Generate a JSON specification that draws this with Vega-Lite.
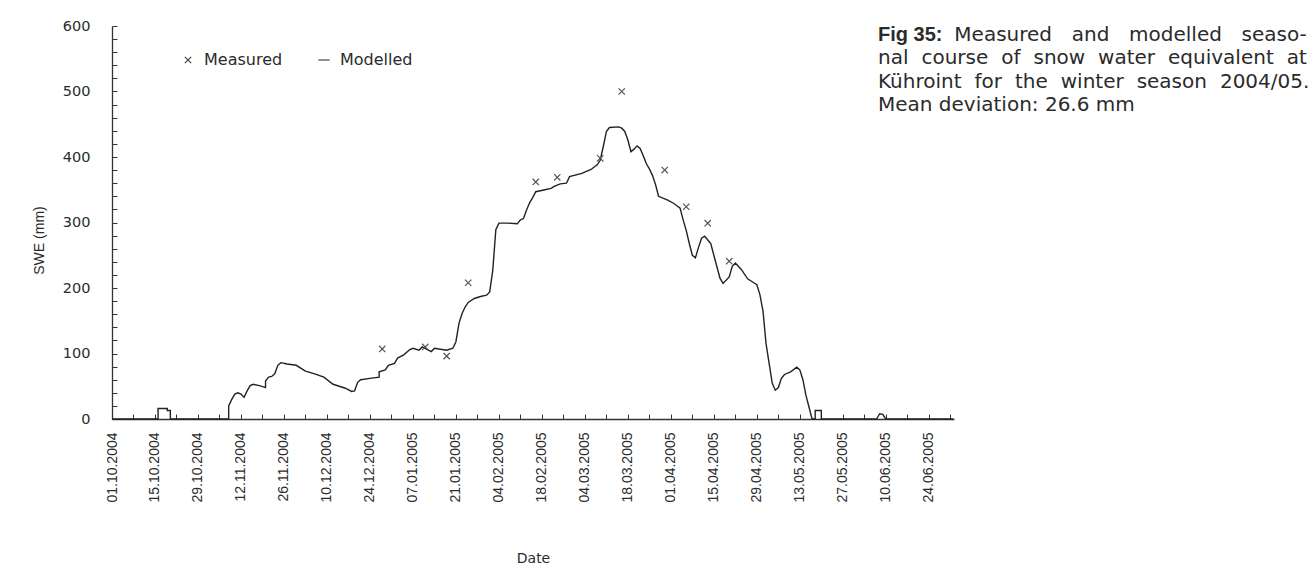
{
  "$schema": "https://vega.github.io/schema/vega-lite/v6.json",
  "width": 842,
  "height": 393,
  "autosize": {"type": "none"},
  "padding": {"left": 112, "top": 26, "right": 361, "bottom": 163},
  "background": "white",
  "config": {
    "view": {"stroke": null},
    "font": "DejaVu Sans"
  },
  "title": {
    "text": "Fig 35:",
    "subtitle": [
      "\u200b\u2003\u2003\u2003\u2002 Measured\u2002\u2006 and\u2002\u2006 modelled\u2002\u2006 seaso-",
      "nal\u2004 course\u2004 of\u2004 snow\u2004 water\u2004 equivalent\u2004 at",
      "Kühroint\u2004 for\u2004 the\u2004 winter\u2004 season\u2004 2004/05.",
      "Mean deviation: 26.6 mm"
    ],
    "anchor": "start",
    "frame": "group",
    "orient": "top",
    "baseline": "top",
    "dx": 766,
    "dy": 101,
    "font": "Liberation Sans",
    "fontSize": 20,
    "fontWeight": "bold",
    "color": "#2b2b2b",
    "subtitleFont": "DejaVu Sans",
    "subtitleFontSize": 20,
    "subtitleColor": "#2b2b2b",
    "subtitleLineHeight": 23.5,
    "subtitlePadding": -20
  },
  "datasets": {
    "modelled": [
      {"date": "2004-10-01", "swe": 0},
      {"date": "2004-10-16", "swe": 0},
      {"date": "2004-10-16", "swe": 16},
      {"date": "2004-10-19", "swe": 16},
      {"date": "2004-10-19", "swe": 13},
      {"date": "2004-10-20", "swe": 13},
      {"date": "2004-10-20", "swe": 0},
      {"date": "2004-11-08", "swe": 0},
      {"date": "2004-11-08", "swe": 20},
      {"date": "2004-11-09", "swe": 30},
      {"date": "2004-11-10", "swe": 38},
      {"date": "2004-11-11", "swe": 40},
      {"date": "2004-11-12", "swe": 38},
      {"date": "2004-11-13", "swe": 33},
      {"date": "2004-11-14", "swe": 43},
      {"date": "2004-11-15", "swe": 51},
      {"date": "2004-11-16", "swe": 53},
      {"date": "2004-11-18", "swe": 51},
      {"date": "2004-11-20", "swe": 48},
      {"date": "2004-11-20", "swe": 58},
      {"date": "2004-11-21", "swe": 64},
      {"date": "2004-11-22", "swe": 65},
      {"date": "2004-11-23", "swe": 69},
      {"date": "2004-11-24", "swe": 82},
      {"date": "2004-11-25", "swe": 86},
      {"date": "2004-11-27", "swe": 84},
      {"date": "2004-11-30", "swe": 82},
      {"date": "2004-12-03", "swe": 73},
      {"date": "2004-12-06", "swe": 69},
      {"date": "2004-12-09", "swe": 64},
      {"date": "2004-12-12", "swe": 53},
      {"date": "2004-12-16", "swe": 47},
      {"date": "2004-12-18", "swe": 42},
      {"date": "2004-12-19", "swe": 43},
      {"date": "2004-12-20", "swe": 56},
      {"date": "2004-12-21", "swe": 60},
      {"date": "2004-12-24", "swe": 62},
      {"date": "2004-12-27", "swe": 64},
      {"date": "2004-12-27", "swe": 72},
      {"date": "2004-12-29", "swe": 75},
      {"date": "2004-12-30", "swe": 82},
      {"date": "2005-01-01", "swe": 85},
      {"date": "2005-01-02", "swe": 93},
      {"date": "2005-01-04", "swe": 98},
      {"date": "2005-01-06", "swe": 106},
      {"date": "2005-01-07", "swe": 108},
      {"date": "2005-01-09", "swe": 105},
      {"date": "2005-01-10", "swe": 110},
      {"date": "2005-01-13", "swe": 103},
      {"date": "2005-01-14", "swe": 108},
      {"date": "2005-01-18", "swe": 105},
      {"date": "2005-01-20", "swe": 108},
      {"date": "2005-01-21", "swe": 118},
      {"date": "2005-01-22", "swe": 146},
      {"date": "2005-01-23", "swe": 161},
      {"date": "2005-01-24", "swe": 171},
      {"date": "2005-01-25", "swe": 178},
      {"date": "2005-01-27", "swe": 184},
      {"date": "2005-01-29", "swe": 187},
      {"date": "2005-01-31", "swe": 189},
      {"date": "2005-02-01", "swe": 194},
      {"date": "2005-02-02", "swe": 227},
      {"date": "2005-02-03", "swe": 289},
      {"date": "2005-02-04", "swe": 299},
      {"date": "2005-02-07", "swe": 299},
      {"date": "2005-02-10", "swe": 298},
      {"date": "2005-02-11", "swe": 304},
      {"date": "2005-02-12", "swe": 306},
      {"date": "2005-02-13", "swe": 319},
      {"date": "2005-02-14", "swe": 330},
      {"date": "2005-02-15", "swe": 338},
      {"date": "2005-02-16", "swe": 347},
      {"date": "2005-02-19", "swe": 350},
      {"date": "2005-02-21", "swe": 352},
      {"date": "2005-02-22", "swe": 355},
      {"date": "2005-02-24", "swe": 359},
      {"date": "2005-02-26", "swe": 360},
      {"date": "2005-02-27", "swe": 370},
      {"date": "2005-03-03", "swe": 375},
      {"date": "2005-03-06", "swe": 381},
      {"date": "2005-03-08", "swe": 388},
      {"date": "2005-03-09", "swe": 395},
      {"date": "2005-03-10", "swe": 416},
      {"date": "2005-03-11", "swe": 439},
      {"date": "2005-03-12", "swe": 445},
      {"date": "2005-03-15", "swe": 446},
      {"date": "2005-03-16", "swe": 444},
      {"date": "2005-03-17", "swe": 439},
      {"date": "2005-03-18", "swe": 426},
      {"date": "2005-03-19", "swe": 408},
      {"date": "2005-03-20", "swe": 412},
      {"date": "2005-03-21", "swe": 417},
      {"date": "2005-03-22", "swe": 413},
      {"date": "2005-03-23", "swe": 402},
      {"date": "2005-03-24", "swe": 390},
      {"date": "2005-03-25", "swe": 382},
      {"date": "2005-03-26", "swe": 372},
      {"date": "2005-03-27", "swe": 358},
      {"date": "2005-03-28", "swe": 340},
      {"date": "2005-03-31", "swe": 334},
      {"date": "2005-04-02", "swe": 329},
      {"date": "2005-04-04", "swe": 322},
      {"date": "2005-04-05", "swe": 304},
      {"date": "2005-04-06", "swe": 288},
      {"date": "2005-04-07", "swe": 268},
      {"date": "2005-04-08", "swe": 250},
      {"date": "2005-04-09", "swe": 246},
      {"date": "2005-04-10", "swe": 262},
      {"date": "2005-04-11", "swe": 276},
      {"date": "2005-04-12", "swe": 279},
      {"date": "2005-04-14", "swe": 268},
      {"date": "2005-04-15", "swe": 250},
      {"date": "2005-04-17", "swe": 215},
      {"date": "2005-04-18", "swe": 207},
      {"date": "2005-04-20", "swe": 217},
      {"date": "2005-04-21", "swe": 233},
      {"date": "2005-04-22", "swe": 238},
      {"date": "2005-04-24", "swe": 228},
      {"date": "2005-04-26", "swe": 214},
      {"date": "2005-04-28", "swe": 208},
      {"date": "2005-04-29", "swe": 205},
      {"date": "2005-04-30", "swe": 190},
      {"date": "2005-05-01", "swe": 165},
      {"date": "2005-05-02", "swe": 115},
      {"date": "2005-05-03", "swe": 85},
      {"date": "2005-05-04", "swe": 55},
      {"date": "2005-05-05", "swe": 44},
      {"date": "2005-05-06", "swe": 48},
      {"date": "2005-05-07", "swe": 62},
      {"date": "2005-05-08", "swe": 68},
      {"date": "2005-05-10", "swe": 72},
      {"date": "2005-05-12", "swe": 79},
      {"date": "2005-05-13", "swe": 75},
      {"date": "2005-05-14", "swe": 60},
      {"date": "2005-05-15", "swe": 36},
      {"date": "2005-05-16", "swe": 18},
      {"date": "2005-05-17", "swe": 0},
      {"date": "2005-05-18", "swe": 0},
      {"date": "2005-05-18", "swe": 13},
      {"date": "2005-05-20", "swe": 13},
      {"date": "2005-05-20", "swe": 0},
      {"date": "2005-06-07", "swe": 0},
      {"date": "2005-06-08", "swe": 8},
      {"date": "2005-06-09", "swe": 7},
      {"date": "2005-06-10", "swe": 0},
      {"date": "2005-07-02", "swe": 0}
    ],
    "measured": [
      {"date": "2004-12-28", "swe": 107, "series": "Measured"},
      {"date": "2005-01-11", "swe": 110, "series": "Measured"},
      {"date": "2005-01-18", "swe": 96, "series": "Measured"},
      {"date": "2005-01-25", "swe": 208, "series": "Measured"},
      {"date": "2005-02-16", "swe": 362, "series": "Measured"},
      {"date": "2005-02-23", "swe": 369, "series": "Measured"},
      {"date": "2005-03-09", "swe": 398, "series": "Measured"},
      {"date": "2005-03-16", "swe": 500, "series": "Measured"},
      {"date": "2005-03-30", "swe": 380, "series": "Measured"},
      {"date": "2005-04-06", "swe": 324, "series": "Measured"},
      {"date": "2005-04-13", "swe": 299, "series": "Measured"},
      {"date": "2005-04-20", "swe": 241, "series": "Measured"}
    ]
  },
  "encoding": {
    "x": {
      "field": "date",
      "type": "temporal",
      "title": "Date",
      "scale": {
        "type": "utc",
        "domain": [
          {"year": 2004, "month": 10, "date": 1, "utc": true},
          {"year": 2005, "month": 7, "date": 2, "hours": 5, "utc": true}
        ],
        "nice": false
      },
      "axis": {
        "values": [
          {"year": 2004, "month": 10, "date": 1, "utc": true},
          {"year": 2004, "month": 10, "date": 8, "utc": true},
          {"year": 2004, "month": 10, "date": 15, "utc": true},
          {"year": 2004, "month": 10, "date": 22, "utc": true},
          {"year": 2004, "month": 10, "date": 29, "utc": true},
          {"year": 2004, "month": 11, "date": 5, "utc": true},
          {"year": 2004, "month": 11, "date": 12, "utc": true},
          {"year": 2004, "month": 11, "date": 19, "utc": true},
          {"year": 2004, "month": 11, "date": 26, "utc": true},
          {"year": 2004, "month": 12, "date": 3, "utc": true},
          {"year": 2004, "month": 12, "date": 10, "utc": true},
          {"year": 2004, "month": 12, "date": 17, "utc": true},
          {"year": 2004, "month": 12, "date": 24, "utc": true},
          {"year": 2004, "month": 12, "date": 31, "utc": true},
          {"year": 2005, "month": 1, "date": 7, "utc": true},
          {"year": 2005, "month": 1, "date": 14, "utc": true},
          {"year": 2005, "month": 1, "date": 21, "utc": true},
          {"year": 2005, "month": 1, "date": 28, "utc": true},
          {"year": 2005, "month": 2, "date": 4, "utc": true},
          {"year": 2005, "month": 2, "date": 11, "utc": true},
          {"year": 2005, "month": 2, "date": 18, "utc": true},
          {"year": 2005, "month": 2, "date": 25, "utc": true},
          {"year": 2005, "month": 3, "date": 4, "utc": true},
          {"year": 2005, "month": 3, "date": 11, "utc": true},
          {"year": 2005, "month": 3, "date": 18, "utc": true},
          {"year": 2005, "month": 3, "date": 25, "utc": true},
          {"year": 2005, "month": 4, "date": 1, "utc": true},
          {"year": 2005, "month": 4, "date": 8, "utc": true},
          {"year": 2005, "month": 4, "date": 15, "utc": true},
          {"year": 2005, "month": 4, "date": 22, "utc": true},
          {"year": 2005, "month": 4, "date": 29, "utc": true},
          {"year": 2005, "month": 5, "date": 6, "utc": true},
          {"year": 2005, "month": 5, "date": 13, "utc": true},
          {"year": 2005, "month": 5, "date": 20, "utc": true},
          {"year": 2005, "month": 5, "date": 27, "utc": true},
          {"year": 2005, "month": 6, "date": 3, "utc": true},
          {"year": 2005, "month": 6, "date": 10, "utc": true},
          {"year": 2005, "month": 6, "date": 17, "utc": true},
          {"year": 2005, "month": 6, "date": 24, "utc": true},
          {"year": 2005, "month": 7, "date": 1, "utc": true}
        ],
        "labelExpr": "round((datum.value - utc(2004, 9, 1)) / 86400000) % 14 == 0 ? utcFormat(datum.value, '%d.%m.%Y') : ''",
        "labelAngle": 270,
        "labelFont": "Liberation Sans",
        "labelFontSize": 14,
        "labelColor": "#2b2b2b",
        "labelPadding": 18,
        "labelOverlap": false,
        "labelFlush": false,
        "tickSize": -5,
        "tickColor": "#333",
        "domainColor": "#333",
        "domainWidth": 1.3,
        "grid": false,
        "titleFont": "DejaVu Sans",
        "titleFontSize": 14,
        "titleFontWeight": "normal",
        "titleColor": "#2b2b2b",
        "titlePadding": 49
      }
    },
    "y": {
      "field": "swe",
      "type": "quantitative",
      "title": "SWE (mm)",
      "scale": {"domain": [0, 600], "nice": false},
      "axis": {
        "values": [0, 20, 40, 60, 80, 100, 120, 140, 160, 180, 200, 220, 240, 260, 280, 300, 320, 340, 360, 380, 400, 420, 440, 460, 480, 500, 520, 540, 560, 580, 600],
        "labelExpr": "datum.value % 100 == 0 ? datum.label : ''",
        "labelFont": "DejaVu Sans",
        "labelFontSize": 14.5,
        "labelColor": "#2b2b2b",
        "labelPadding": 27,
        "labelOverlap": false,
        "labelFlush": false,
        "tickSize": -5,
        "tickColor": "#333",
        "domainColor": "#333",
        "domainWidth": 1.3,
        "grid": false,
        "titleFont": "Liberation Sans",
        "titleFontSize": 14,
        "titleFontWeight": "normal",
        "titleColor": "#2b2b2b",
        "titlePadding": 16,
        "titleY": 214
      }
    }
  },
  "layer": [
    {
      "data": {"name": "modelled"},
      "mark": {"type": "line", "color": "#222", "strokeWidth": 1.4, "interpolate": "linear"},
      "encoding": {
        "order": {"value": null}
      }
    },
    {
      "data": {"name": "measured"},
      "mark": {"type": "point", "filled": false, "stroke": "#555", "strokeWidth": 1.2, "size": 40, "opacity": 1},
      "encoding": {
        "shape": {
          "field": "series",
          "type": "nominal",
          "scale": {
            "domain": ["Measured", "Modelled"],
            "range": ["M-1,-1L1,1M-1,1L1,-1", "M-1.8,0L1.8,0"]
          },
          "legend": {
            "orient": "none",
            "legendX": 68,
            "legendY": 26,
            "direction": "horizontal",
            "title": null,
            "labelFont": "DejaVu Sans",
            "labelFontSize": 16,
            "labelColor": "#2b2b2b",
            "labelOffset": 8,
            "columnPadding": 32,
            "symbolSize": 40,
            "symbolStrokeColor": "#444",
            "symbolStrokeWidth": 1.2,
            "symbolFillColor": "transparent"
          }
        }
      }
    }
  ]
}
